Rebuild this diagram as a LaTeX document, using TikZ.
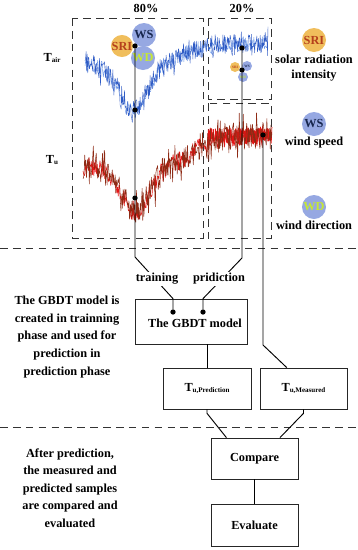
\documentclass[tikz,border=0pt]{standalone}
\usepackage{fontspec}
\setmainfont{Liberation Serif}
\usetikzlibrary{positioning, calc}

\definecolor{airblue}{HTML}{2F5BC4}
\definecolor{airlight}{HTML}{6A96E6}
\definecolor{tubrown}{HTML}{8E2A14}
\definecolor{tured}{HTML}{E41414}
\definecolor{srifill}{HTML}{F0BE5C}
\definecolor{sritext}{HTML}{B5401C}
\definecolor{wfill}{HTML}{96A8E2}
\definecolor{wstext}{HTML}{17264E}
\definecolor{wdtext}{HTML}{C6E834}

\newcommand{\subtag}[1]{\raisebox{-0.35ex}{\fontsize{6}{6}\selectfont #1}}

\begin{document}
\begin{tikzpicture}[x=0.03cm, y=-0.03cm,
  every node/.style={font=\fontsize{10.5}{12.8}\selectfont\bfseries},
  declare function={
    airb(\t)=44+20/(1+exp((\t-185)/12))+48*exp(-(((\t-133)/20)^2));
    tub(\t)=136+30/(1+exp((\t-195)/10))+45*exp(-(((\t-135)/20)^2));
  },
  frame/.style={dash pattern=on 6.5pt off 4.5pt, line width=0.8pt, draw=black!80},
  series/.style={line width=0.35pt, line join=round},
  dot/.style={circle, fill=black, inner sep=0pt, minimum size=4.5pt},
  box/.style={rectangle, draw=black!85, line width=0.6pt, inner sep=0pt},
  link/.style={line width=0.8pt},
  factor/.style={circle, fill=#1, inner sep=0pt, minimum size=0.72cm},
  note/.style={align=center},
]
\useasboundingbox (0,0) rectangle (358,550);

% --- Dashed frames and separators
\draw[frame] (72,18) rectangle (203,238);
\draw[frame] (208,18) rectangle (271,99);
\draw[frame] (208,103) rectangle (271,238);
\draw[frame] (0,248) -- (358,248);
\draw[frame] (0,427) -- (358,427);
\node (pct80) at (146,8) {80\%};
\node (pct20) at (242,8) {20\%};

% --- Time series: T_air (blue) and T_u (red)
\pgfmathsetseed{7}
\draw[series, airlight] plot[domain=85:268, samples=260] (\x, {airb(\x)+8*rand});
\draw[series, airblue] plot[domain=85:268, samples=330] (\x, {airb(\x)+10*rand+9*rand^3});
\draw[series, tured, line width=0.5pt] plot[domain=83:272, samples=280] (\x, {tub(\x)+10*rand});
\draw[series, tured, line width=0.7pt] plot[domain=208:271, samples=260] (\x, {136+8*rand});
\draw[series, tubrown, line width=0.45pt] plot[domain=83:272, samples=330] (\x, {tub(\x)+13*rand+14*rand^3});
\node (tair) at (52,58) {T\subtag{air}};
\node (tu) at (52,160) {T\subtag{u}};

% --- Factors on the series
\node[factor=srifill, minimum size=0.6cm, text=sritext] (sri1) at (122,46) {SRI};
\node[factor=wfill, text=wstext] (ws1) at (144,35) {WS};
\node[factor=wfill, text=wdtext] (wd1) at (143,58) {WD};
\node[factor=srifill, minimum size=0.3cm, text=sritext, font=\fontsize{3}{3}\selectfont\bfseries] (sri2) at (235,67) {SRI};
\node[factor=wfill, minimum size=0.3cm, text=wstext, font=\fontsize{3}{3}\selectfont\bfseries] (ws2) at (247,66) {WS};
\node[factor=wfill, minimum size=0.3cm, text=wdtext, font=\fontsize{3}{3}\selectfont\bfseries] (wd2) at (243,77) {WD};

% --- Legend (right)
\node[factor=srifill, text=sritext] (srileg) at (314,40) {SRI};
\node[note] (srinote) at (314,68) {solar radiation\\intensity};
\node[factor=wfill, text=wstext] (wsleg) at (314,124) {WS};
\node (wsnote) at (314,143) {wind speed};
\node[factor=wfill, text=wdtext] (wdleg) at (314,207) {WD};
\node (wdnote) at (314,225) {wind direction};

% --- Sample points
\node[dot] (d1) at (135,46) {};
\node[dot] (d2) at (135,110) {};
\node[dot] (d3) at (135,198) {};
\node[dot] (e1) at (242,48) {};
\node[dot] (e2) at (242,70) {};
\node[dot] (f1) at (263,135) {};

% --- Model and evaluation boxes
\node[box, minimum width=3.36cm, minimum height=1.35cm] (gbdt) at (191,321.5) {};
\node (gbdtlbl) at (195,323) {The GBDT model};
\node[dot] (g1) at (173,312) {};
\node[dot] (g2) at (203,312) {};
\node[box, minimum width=2.64cm, minimum height=1.23cm] (pred) at (207,388.5) {T\subtag{u,Prediction}};
\node[box, minimum width=2.61cm, minimum height=1.23cm] (meas) at (303.5,388.5) {T\subtag{u,Measured}};
\node[box, minimum width=2.61cm, minimum height=1.23cm] (cmp) at (254.5,458.5) {Compare};
\node[box, minimum width=2.61cm, minimum height=1.26cm] (eval) at (254.5,525) {Evaluate};

% --- Connectors
\coordinate (bendA) at (135,257);
\coordinate (bendB) at (242,258);
\coordinate (bendC) at (263,345);
\coordinate (measIn) at ($(meas.north west)!0.31!(meas.north east)$);
\coordinate (cmpL) at ($(cmp.north west)!0.18!(cmp.north east)$);
\coordinate (cmpR) at ($(cmp.north west)!0.79!(cmp.north east)$);
\draw[link] (d1) -- (d2) -- (d3) -- (bendA) -- (gbdt.north -| g1) -- (g1);
\draw[link] (e1) -- (e2) -- (bendB) -- (gbdt.north -| g2) -- (g2);
\draw[link] (f1) -- (bendC) -- (measIn);
\draw[link] (gbdt.south -| pred.north) -- (pred.north);
\draw[link] (pred.south) -- ($(pred.south)+(0,4)$) -- (cmpL);
\draw[link] (meas.south) -- ($(meas.south)+(0,4)$) -- (cmpR);
\draw[link] (cmp) -- (eval);
\node[fill=white, inner sep=1pt] (train) at (157,279) {training};
\node[fill=white, inner sep=1pt] (pridict) at (219,279) {pridiction};

% --- Notes (left)
\node[note, font=\fontsize{10.5}{15}\selectfont\bfseries] (note1) at (67,337)
  {The GBDT model is\\created in trainning\\phase and used for\\prediction in\\prediction phase};
\node[note, font=\fontsize{10.5}{15}\selectfont\bfseries] (note2) at (70,488)
  {After prediction,\\the measured and\\predicted samples\\are compared and\\evaluated};
\end{tikzpicture}
\end{document}
